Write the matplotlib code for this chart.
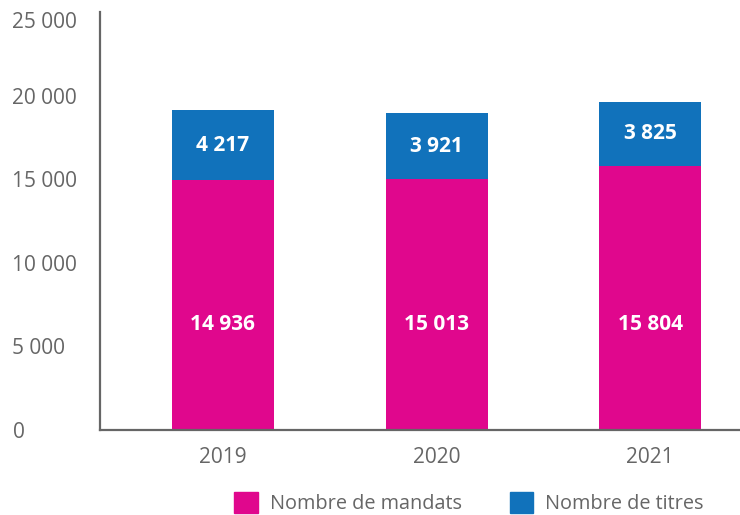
import matplotlib
matplotlib.use("Agg")
import matplotlib.pyplot as plt
import matplotlib.transforms as mtransforms
from matplotlib.patches import Patch

# Données
years = ["2019", "2020", "2021"]
mandats = [14936, 15013, 15804]
titres = [4217, 3921, 3825]
yticks = [0, 5000, 10000, 15000, 20000, 25000]

PINK = "#E0078D"
BLUE = "#1172BB"
GRAY = "#666666"

plt.rcParams["font.family"] = ["Open Sans", "DejaVu Sans"]


def fmt(v):
    return f"{v:,}".replace(",", " ")


fig = plt.figure(figsize=(7.4, 5.15), dpi=100)
ax = fig.add_axes([100 / 740, 1 - 430 / 515, 1 - 100 / 740, (430 - 12) / 515])

x = list(range(len(years)))
ax.bar(x, mandats, width=0.477, color=PINK)
ax.bar(x, titres, width=0.477, bottom=mandats, color=BLUE)

# étiquettes
for i in x:
    ax.text(i, 6300, fmt(mandats[i]), ha="center", va="center",
            color="white", fontsize=15, fontweight="bold")
    ax.text(i, mandats[i] + titres[i] / 2, fmt(titres[i]), ha="center",
            va="center", color="white", fontsize=15, fontweight="bold")

ax.set_xlim(-0.575, 2.42)
ax.set_ylim(0, 25000)
ax.set_xticks(x)
ax.set_xticklabels(years)
ax.set_yticks(yticks)
ax.set_yticklabels([fmt(v) for v in yticks])

ax.tick_params(axis="both", length=0, labelsize=15, colors=GRAY)
ax.tick_params(axis="x", pad=12)
ax.tick_params(axis="y", pad=63)
for lbl in ax.get_yticklabels():
    lbl.set_horizontalalignment("left")
# le dernier libellé est descendu un peu
top = ax.get_yticklabels()[-1]
top.set_transform(top.get_transform() + mtransforms.ScaledTranslation(0, -8 / 100, fig.dpi_scale_trans))

for s in ["top", "right"]:
    ax.spines[s].set_visible(False)
for s in ["left", "bottom"]:
    ax.spines[s].set_color(GRAY)
    ax.spines[s].set_linewidth(1.6)

handles = [Patch(color=PINK, label="Nombre de mandats"),
           Patch(color=BLUE, label="Nombre de titres")]
fig.legend(handles=handles, loc="center", bbox_to_anchor=(469 / 740, 0.023),
           ncol=2, frameon=False, fontsize=14.3, labelcolor=GRAY,
           handlelength=1.2, handleheight=1.2, handletextpad=0.6,
           columnspacing=2.4)

fig.savefig("out.png", dpi=100)
